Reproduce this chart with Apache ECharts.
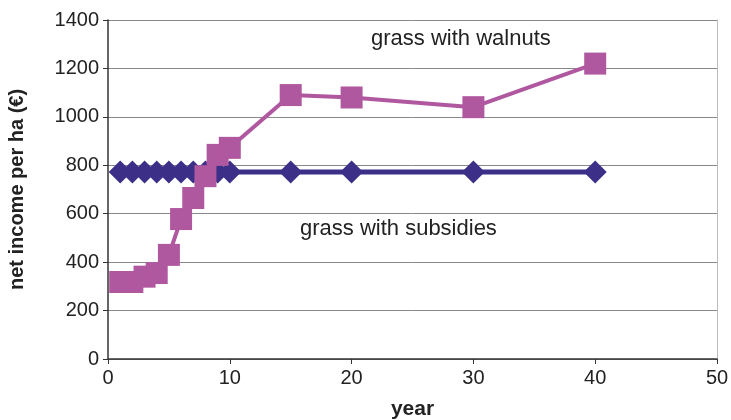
<!DOCTYPE html>
<html>
<head>
<meta charset="utf-8">
<script src="https://cdn.jsdelivr.net/npm/echarts@6/dist/echarts.min.js"></script>
<style>
  html, body { margin: 0; padding: 0; background: #fff; }
  #chart { width: 731px; height: 420px; }
</style>
</head>
<body>
<div id="chart"></div>
<script>
// years on the x axis
const years = [1, 2, 3, 4, 5, 6, 7, 8, 9, 10, 15, 20, 30, 40];
// net income per ha (€)
const subsidies = [772, 772, 772, 772, 772, 772, 772, 772, 772, 772, 772, 772, 772, 772];
const walnuts = [318, 318, 340, 355, 430, 578, 665, 755, 843, 872, 1090, 1080, 1040, 1220];

const chart = echarts.init(document.getElementById('chart'));
const font = 'Liberation Sans, Arial, Helvetica, sans-serif';

const option = {
  animation: false,
  grid: { left: 108, right: 14, top: 20, bottom: 61, outerBoundsMode: 'none' },
  xAxis: {
    type: 'value',
    min: 0, max: 50, interval: 10,
    name: 'year',
    nameLocation: 'middle',
    nameGap: 40,
    nameTextStyle: { fontFamily: font, fontSize: 21, fontWeight: 'bold', color: '#222' },
    axisLine: { lineStyle: { color: '#333', width: 1.5 } },
    axisTick: { length: 5, lineStyle: { color: '#333' } },
    axisLabel: { fontFamily: font, fontSize: 20, color: '#222', margin: 9 },
    splitLine: { show: false }
  },
  yAxis: [{
    type: 'value',
    min: 0, max: 1400, interval: 200,
    name: 'net income per ha (€)',
    nameLocation: 'middle',
    nameGap: 81,
    nameTextStyle: { fontFamily: font, fontSize: 20, fontWeight: 'bold', color: '#222' },
    axisLine: { show: true, lineStyle: { color: '#333', width: 1.5 } },
    axisTick: { show: true, length: 5, lineStyle: { color: '#333' } },
    axisLabel: { fontFamily: font, fontSize: 20, color: '#222', margin: 9, formatter: v => String(v) },
    splitLine: { lineStyle: { color: '#888', width: 1 } }
  }, {
    // right border of the plot
    type: 'value',
    position: 'right',
    min: 0, max: 1400, interval: 200,
    axisLine: { show: true, lineStyle: { color: '#bbb', width: 1 } },
    axisTick: { show: false },
    axisLabel: { show: false },
    splitLine: { show: false }
  }],
  graphic: [
    { type: 'text', left: 300, top: 218, style: { text: 'grass with subsidies', font: '22px ' + font, fill: '#222' } },
    { type: 'text', left: 371, top: 28, style: { text: 'grass with walnuts', font: '22px ' + font, fill: '#222' } }
  ],
  series: [
    {
      name: 'grass with subsidies',
      type: 'line',
      data: years.map((y, i) => [y, subsidies[i]]),
      symbol: 'diamond',
      symbolSize: [23, 23],
      lineStyle: { color: '#3c2f87', width: 5 },
      itemStyle: { color: '#3c2f87' }
    },
    {
      name: 'grass with walnuts',
      type: 'line',
      data: years.map((y, i) => [y, walnuts[i]]),
      symbol: 'rect',
      symbolSize: 22,
      lineStyle: { color: '#b0589f', width: 4 },
      itemStyle: { color: '#b0589f' }
    }
  ]
};

chart.setOption(option);
</script>
</body>
</html>
